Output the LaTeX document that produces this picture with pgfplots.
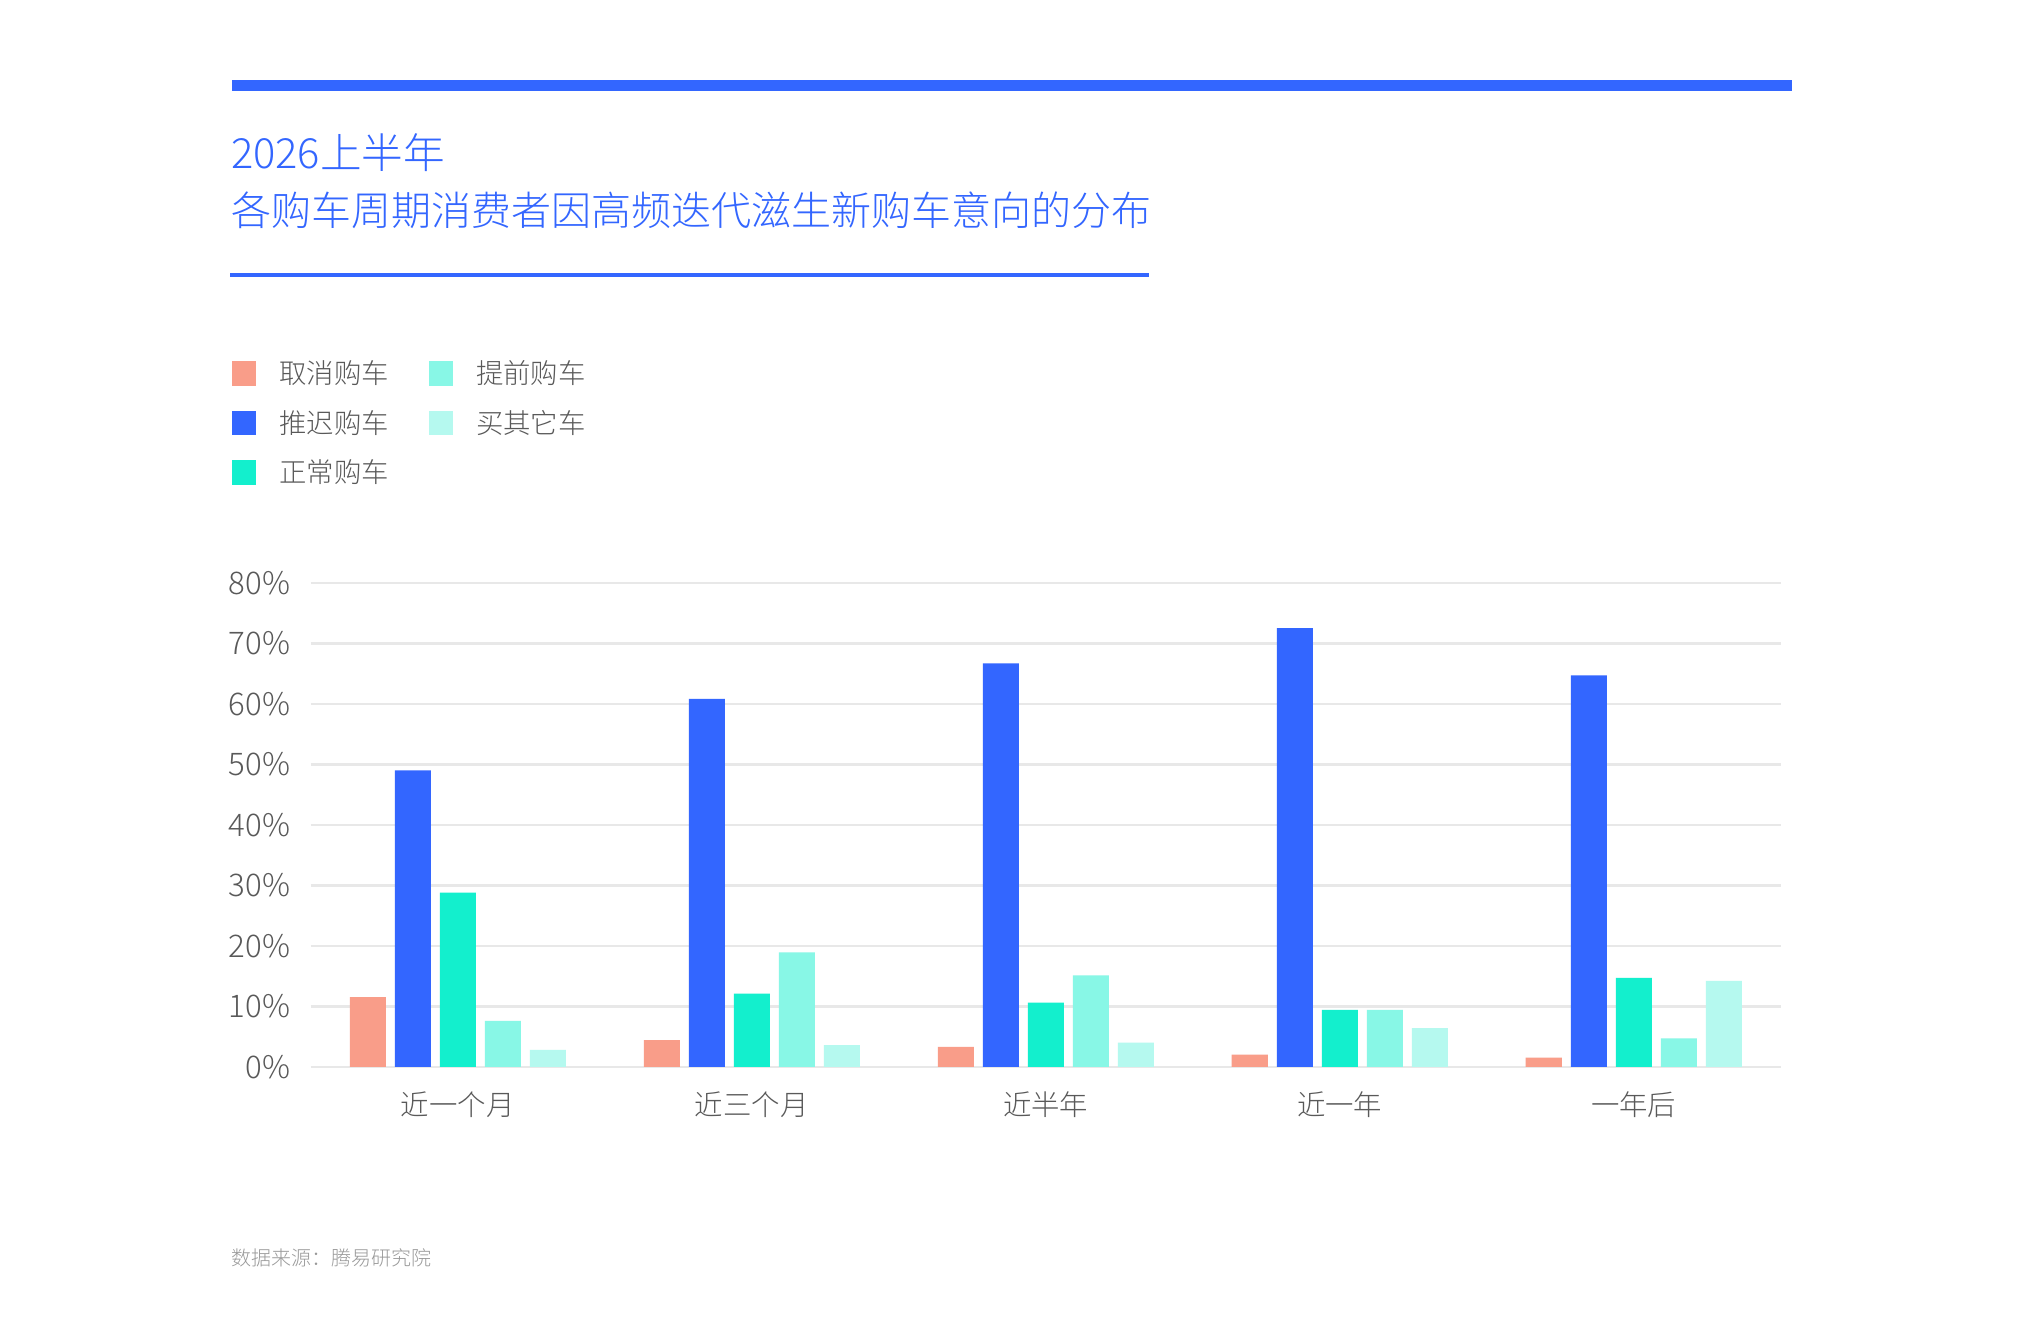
\documentclass[border=0pt]{standalone}
\usepackage{pgfplots}
\pgfplotsset{compat=1.18}
\usepackage{fontspec}
\setmainfont{Noto Sans CJK SC}[UprightFont={* Light}]
\definecolor{tblue}{HTML}{3366FF}
\definecolor{corange}{HTML}{F99D89}
\definecolor{cblue}{HTML}{3366FF}
\definecolor{cgreen}{HTML}{13EFCD}
\definecolor{clgreen}{HTML}{88F7E6}
\definecolor{cxgreen}{HTML}{B5F9EF}
\definecolor{tgray}{HTML}{595959}
\definecolor{sgray}{HTML}{999999}
\definecolor{gridc}{HTML}{E8E8E8}
\pgfplotsset{sqlegend/.style={legend image code/.code={\fill[##1] (0pt,-3.05pt) rectangle (6.1pt,3.05pt);}}}
\begin{document}
\begin{tikzpicture}
\fill[white] (0pt,0pt) rectangle (504.5pt,335.75pt);
\fill[tblue] (57.9pt,312.9pt) rectangle (448.1pt,315.7pt);
\node[anchor=base west, inner sep=0pt, text=tblue, font=\fontsize{10.4pt}{12pt}\selectfont] at (57.6pt,293.6pt) {2026上半年};
\node[anchor=base west, inner sep=0pt, text=tblue, font=\fontsize{10pt}{12pt}\selectfont] at (57.6pt,279.5pt) {各购车周期消费者因高频迭代滋生新购车意向的分布};
\fill[tblue] (57.6pt,266.6pt) rectangle (287.3pt,267.6pt);
\node[anchor=base west, inner sep=0pt, text=sgray, font=\fontsize{5pt}{6pt}\selectfont] at (57.6pt,19.3pt) {数据来源：腾易研究院};
\begin{axis}[
  at={(77.7pt,69.05pt)}, anchor=south west,
  scale only axis, width=367.5pt, height=121pt,
  xmin=-0.5, xmax=4.5, ymin=0, ymax=80,
  ybar=2.25pt, bar width=0.1225,
  xtick={0,1,2,3,4},
  xticklabels={近一个月,近三个月,近半年,近一年,一年后},
  ytick={0,10,...,80},
  yticklabel={\pgfmathprintnumber{\tick}\%},
  /pgf/number format/assume math mode=true,
  ymajorgrids, grid style={draw=gridc, line width=0.6pt},
  axis line style={draw=none},
  major tick length=0pt,
  tick label style={text=tgray},
  yticklabel style={anchor=east, inner sep=0pt, xshift=-5pt, font=\fontsize{7.8pt}{9pt}\selectfont},
  xticklabel style={anchor=north, inner sep=0pt, yshift=-6pt, font=\fontsize{7.1pt}{9pt}\selectfont},
  legend columns=3, transpose legend,
  legend style={at={(-0.0538,1.458)}, anchor=north west, draw=none, fill=none,
    inner sep=0pt, outer sep=0pt, row sep=6.3pt,
    font=\fontsize{6.85pt}{8pt}\selectfont, text=tgray,
    nodes={inner sep=0pt, text height=5.6pt, text depth=0.5pt},
    /tikz/every odd column/.append style={column sep=5.8pt},
    /tikz/every even column/.append style={column sep=9.9pt}},
  legend cell align=left,
]
\addplot[fill=corange, draw=none, sqlegend] coordinates {(0,11.5) (1,4.4) (2,3.3) (3,2.0) (4,1.5)};
\addplot[fill=cblue, draw=none, sqlegend] coordinates {(0,49.0) (1,60.8) (2,66.7) (3,72.5) (4,64.7)};
\addplot[fill=cgreen, draw=none, sqlegend] coordinates {(0,28.8) (1,12.1) (2,10.6) (3,9.4) (4,14.7)};
\addplot[fill=clgreen, draw=none, sqlegend] coordinates {(0,7.6) (1,18.9) (2,15.1) (3,9.4) (4,4.7)};
\addplot[fill=cxgreen, draw=none, sqlegend] coordinates {(0,2.8) (1,3.6) (2,4.0) (3,6.4) (4,14.2)};
\legend{取消购车,推迟购车,正常购车,提前购车,买其它车}
\end{axis}
\end{tikzpicture}
\end{document}
